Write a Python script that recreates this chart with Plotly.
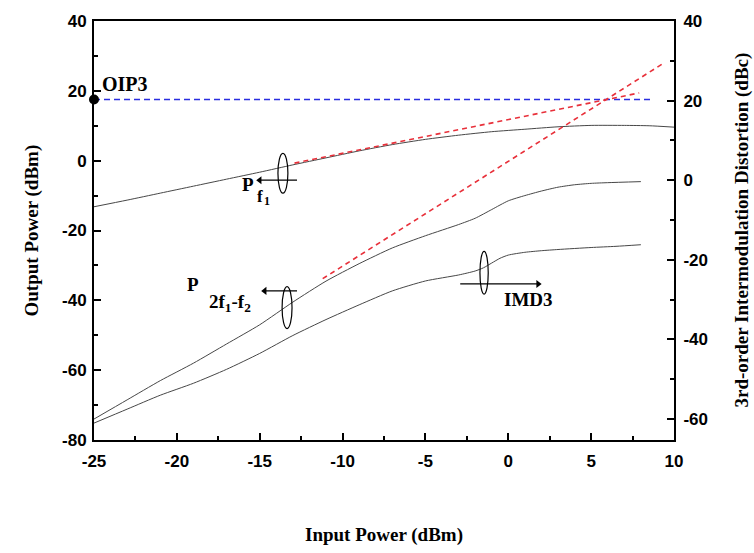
import plotly.graph_objects as go

# Fundamental output power P_f1 (dBm) vs input power (dBm)
input_fund = [-25, -23, -21, -19, -17, -15, -13, -11, -9, -7, -5, -3, -1, 1, 3, 5, 7, 8.5, 10]
p_fund = [-13.2, -11.3, -9.3, -7.3, -5.3, -3.3, -1.2, 0.8, 2.8, 4.6, 6.1, 7.3, 8.3, 9.0, 9.7, 10.1, 10.1, 10.0, 9.6]

# Third-order intermodulation product P_2f1-f2 (dBm)
input_im3 = [-25, -23, -21, -19, -17, -15, -13, -11, -9, -7, -5, -3, -2, -1, 0, 1, 2, 3, 4, 5, 6, 8]
p_im3 = [-74, -68.5, -63, -58, -52.5, -47, -40.5, -34.5, -29.5, -25, -21.5, -18.3, -16.5, -14, -11.5,
         -10, -8.7, -7.6, -6.9, -6.5, -6.3, -6.0]

# 3rd-order intermodulation distortion (dBc), right axis
input_imd = [-25, -23, -21, -19, -17, -15, -13, -11, -9, -7, -5, -3, -2, -1.5, -1, -0.5, 0, 1, 2, 3, 5, 6.5, 8]
imd3 = [-61, -57.5, -54, -51, -47.5, -43.5, -39, -35, -31.3, -27.8, -25.3, -23.8, -22.8, -22.0, -20.8,
        -19.6, -18.8, -18.1, -17.7, -17.4, -16.9, -16.6, -16.2]

# Linear extrapolations and intercept point
fund_fit_x = [-12.9, 7.9]
fund_fit_y = [-0.7, 19.4]
im3_fit_x = [-11.2, 9.3]
im3_fit_y = [-33.8, 27.7]
oip3 = 17.5
oip3_x = [-25, 8.7]

x_ticks = [-25, -20, -15, -10, -5, 0, 5, 10]
y_left_ticks = [-80, -60, -40, -20, 0, 20, 40]
y_right_ticks = [-60, -40, -20, 0, 20, 40]

gray = "#474747"
red = "#e8303a"
blue = "#2a2ee0"
tick_font = dict(family="Liberation Sans", size=17, color="black", weight="bold")
serif = "Liberation Serif"


def tick_text(vals):
    return [str(v) for v in vals]


curve_line = dict(color=gray, width=1, shape="spline", smoothing=0.6)

fig = go.Figure()
fig.add_trace(go.Scatter(x=input_fund, y=p_fund, mode="lines", line=curve_line))
fig.add_trace(go.Scatter(x=input_im3, y=p_im3, mode="lines", line=curve_line))
fig.add_trace(go.Scatter(x=input_imd, y=imd3, mode="lines", yaxis="y2", line=curve_line))
fig.add_trace(go.Scatter(x=oip3_x, y=[oip3, oip3], mode="lines",
                         line=dict(color=blue, width=1.4, dash="6px,4px")))
fig.add_trace(go.Scatter(x=fund_fit_x, y=fund_fit_y, mode="lines",
                         line=dict(color=red, width=1.6, dash="5px,4px")))
fig.add_trace(go.Scatter(x=im3_fit_x, y=im3_fit_y, mode="lines",
                         line=dict(color=red, width=1.6, dash="5px,4px")))
fig.add_trace(go.Scatter(x=[oip3_x[0]], y=[oip3], mode="markers", cliponaxis=False,
                         marker=dict(color="black", size=10)))

axis_common = dict(showgrid=False, zeroline=False, showline=True, linecolor="black",
                   linewidth=2, ticks="inside", ticklen=7, tickwidth=2, tickcolor="black",
                   tickfont=tick_font)
minor_common = dict(ticks="inside", ticklen=4, tickwidth=2, tickcolor="black")

fig.update_layout(
    width=754, height=553,
    margin=dict(l=94, r=80, t=19, b=113),
    paper_bgcolor="white", plot_bgcolor="white",
    showlegend=False,
    xaxis=dict(range=[-25, 10], tickvals=x_ticks, ticktext=tick_text(x_ticks), mirror=True,
               ticklabelstandoff=5, minor=dict(dtick=2.5, tick0=-25, **minor_common),
               **axis_common),
    yaxis=dict(range=[-80, 40], tickvals=y_left_ticks, ticktext=tick_text(y_left_ticks),
               ticklabelstandoff=2, minor=dict(dtick=10, tick0=-80, **minor_common),
               **axis_common),
    yaxis2=dict(range=[-65.25, 40], tickvals=y_right_ticks, ticktext=tick_text(y_right_ticks),
                overlaying="y", side="right", ticklabelstandoff=4,
                minor=dict(dtick=10, tick0=-60, **minor_common),
                **axis_common),
)

# Ellipse markers grouping each curve with its axis
ellipses = [(-13.6, -3.6, 0.3, 5.7), (-13.35, -42.1, 0.3, 6.0), (-1.46, -32.1, 0.25, 6.1)]
for cx, cy, rx, ry in ellipses:
    fig.add_shape(type="circle", xref="x", yref="y", x0=cx - rx, x1=cx + rx,
                  y0=cy - ry, y1=cy + ry, line=dict(color="black", width=1.2))

# Direction arrows pointing to the relevant axis: (tail x, tip x, y, head symbol)
arrows = [(-12.75, -15.0, -5.6, "triangle-left"),
          (-12.75, -14.7, -37.3, "triangle-left"),
          (-2.9, 1.8, -35.3, "triangle-right")]
for x_tail, x_tip, yv, head in arrows:
    fig.add_shape(type="line", xref="x", yref="y", x0=x_tail, x1=x_tip, y0=yv, y1=yv,
                  line=dict(color="black", width=1.3))
    fig.add_trace(go.Scatter(x=[x_tip], y=[yv], mode="markers",
                             marker=dict(symbol=head, size=7, color="black")))

lab_font = dict(family=serif, size=19, color="black", weight="bold")
fig.add_annotation(x=-25, y=oip3, xref="x", yref="y", text="OIP3", showarrow=False,
                   xanchor="left", yanchor="bottom", xshift=6, yshift=3,
                   font=dict(family=serif, size=20, color="black", weight="bold"))
fig.add_annotation(x=-15.7, y=-6.7, xref="x", yref="y", text="P", showarrow=False,
                   font=lab_font)
fig.add_annotation(x=-15.0, y=-10.2, xref="x", yref="y", text="f", showarrow=False,
                   font=dict(family=serif, size=17, color="black", weight="bold"))
fig.add_annotation(x=-14.55, y=-11.6, xref="x", yref="y", text="1", showarrow=False,
                   font=dict(family=serif, size=12, color="black", weight="bold"))
fig.add_annotation(x=-19.0, y=-35.6, xref="x", yref="y", text="P", showarrow=False,
                   font=lab_font)
fig.add_annotation(x=-16.8, y=-40.7, xref="x", yref="y",
                   text="2f<sub>1</sub>-f<sub>2</sub>", showarrow=False,
                   font=dict(family=serif, size=19, color="black", weight="bold"))
fig.add_annotation(x=1.2, y=-39.8, xref="x", yref="y", text="IMD3", showarrow=False,
                   font=lab_font)

# Axis titles
title_font = dict(family=serif, size=19, color="black", weight="bold")
fig.add_annotation(x=0.5, y=0, xref="paper", yref="paper", text="Input Power (dBm)",
                   showarrow=False, yanchor="middle", yshift=-95, font=title_font)
fig.add_annotation(x=0, y=0.5, xref="paper", yref="paper", text="Output Power (dBm)",
                   showarrow=False, textangle=-90, xanchor="center", xshift=-63, font=title_font)
fig.add_annotation(x=1, y=0.5, xref="paper", yref="paper",
                   text="3rd-order Intermodulation Distortion (dBc)",
                   showarrow=False, textangle=-90, xanchor="center", xshift=67, font=title_font)

fig.write_html("out.html")
